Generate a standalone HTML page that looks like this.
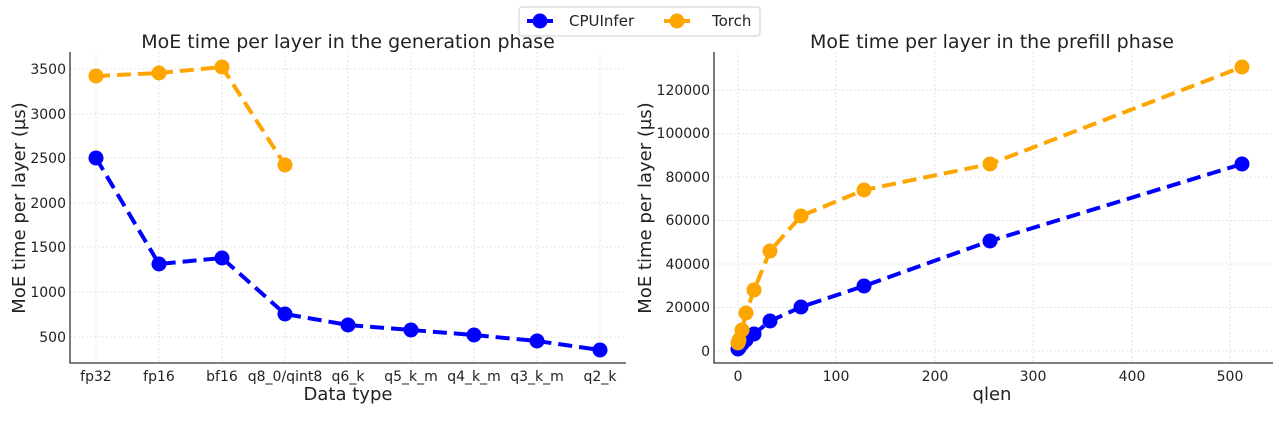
<!DOCTYPE html><html><head><style>body{margin:0;background:#fff}svg{display:block;font-family:"DejaVu Sans","Liberation Sans",sans-serif}</style></head><body>
<svg width="1280" height="426" viewBox="0 0 1280 426">
<g stroke="#ddd" stroke-dasharray="2,2" stroke-width="0.8">
<line x1="70" x2="626" y1="69" y2="69"/><line x1="70" x2="626" y1="114" y2="114"/><line x1="70" x2="626" y1="158" y2="158"/><line x1="70" x2="626" y1="203" y2="203"/><line x1="70" x2="626" y1="247" y2="247"/><line x1="70" x2="626" y1="292" y2="292"/><line x1="70" x2="626" y1="337" y2="337"/>
<line x1="96" x2="96" y1="52" y2="363"/><line x1="159" x2="159" y1="52" y2="363"/><line x1="222" x2="222" y1="52" y2="363"/><line x1="285" x2="285" y1="52" y2="363"/><line x1="348" x2="348" y1="52" y2="363"/><line x1="411" x2="411" y1="52" y2="363"/><line x1="474" x2="474" y1="52" y2="363"/><line x1="537" x2="537" y1="52" y2="363"/><line x1="600" x2="600" y1="52" y2="363"/>
<line x1="714" x2="1273" y1="351" y2="351"/><line x1="714" x2="1273" y1="307.5" y2="307.5"/><line x1="714" x2="1273" y1="264" y2="264"/><line x1="714" x2="1273" y1="220.5" y2="220.5"/><line x1="714" x2="1273" y1="177" y2="177"/><line x1="714" x2="1273" y1="133.5" y2="133.5"/><line x1="714" x2="1273" y1="90" y2="90"/>
<line x1="738" x2="738" y1="52" y2="363"/><line x1="836" x2="836" y1="52" y2="363"/><line x1="935" x2="935" y1="52" y2="363"/><line x1="1033" x2="1033" y1="52" y2="363"/><line x1="1132" x2="1132" y1="52" y2="363"/><line x1="1230" x2="1230" y1="52" y2="363"/>
</g>
<g stroke="#333" stroke-width="1.3" fill="none"><path d="M70 52V363H626"/><path d="M714 52V363H1273"/></g>
<g fill="#222" font-size="14" text-anchor="end">
<text x="66" y="74">3500</text><text x="66" y="119">3000</text><text x="66" y="163">2500</text><text x="66" y="208">2000</text><text x="66" y="252">1500</text><text x="66" y="297">1000</text><text x="66" y="342">500</text>
<text x="710" y="356">0</text><text x="710" y="312">20000</text><text x="710" y="269">40000</text><text x="710" y="225">60000</text><text x="710" y="182">80000</text><text x="710" y="138">100000</text><text x="710" y="95">120000</text>
</g>
<g fill="#222" font-size="14" text-anchor="middle">
<text x="96" y="381">fp32</text><text x="159" y="381">fp16</text><text x="222" y="381">bf16</text><text x="285" y="381">q8_0/qint8</text><text x="348" y="381">q6_k</text><text x="411" y="381">q5_k_m</text><text x="474" y="381">q4_k_m</text><text x="537" y="381">q3_k_m</text><text x="600" y="381">q2_k</text>
<text x="738" y="381">0</text><text x="836" y="381">100</text><text x="935" y="381">200</text><text x="1033" y="381">300</text><text x="1132" y="381">400</text><text x="1230" y="381">500</text>
<text x="348" y="400" font-size="18">Data type</text><text x="992" y="400" font-size="18">qlen</text>
<text x="348" y="48" font-size="19">MoE time per layer in the generation phase</text><text x="992" y="48" font-size="19">MoE time per layer in the prefill phase</text>
<text transform="translate(25,208) rotate(-90)" font-size="18">MoE time per layer (µs)</text>
<text transform="translate(651,208) rotate(-90)" font-size="18">MoE time per layer (µs)</text>
</g>
<g fill="none" stroke-width="4" stroke-dasharray="14,7">
<polyline stroke="#0000ff" points="96,158 159,264 222,258 285,314 348,325 411,330 474,335 537,341 600,350"/>
<polyline stroke="#ffa500" points="96,76 159,73 222,67 285,165"/>
<polyline stroke="#0000ff" points="738,349 739,348 742,344 746,340 754,334 770,321 801,307 864,286 990,241 1242,164"/>
<polyline stroke="#ffa500" points="738,343 739,340 742,330 746,313 754,290 770,251 801,216 864,190 990,164 1242,67"/>
</g>
<g fill="#0000ff"><circle cx="96" cy="158" r="7.5"/><circle cx="159" cy="264" r="7.5"/><circle cx="222" cy="258" r="7.5"/><circle cx="285" cy="314" r="7.5"/><circle cx="348" cy="325" r="7.5"/><circle cx="411" cy="330" r="7.5"/><circle cx="474" cy="335" r="7.5"/><circle cx="537" cy="341" r="7.5"/><circle cx="600" cy="350" r="7.5"/>
<circle cx="738" cy="349" r="7.5"/><circle cx="739" cy="348" r="7.5"/><circle cx="742" cy="344" r="7.5"/><circle cx="746" cy="340" r="7.5"/><circle cx="754" cy="334" r="7.5"/><circle cx="770" cy="321" r="7.5"/><circle cx="801" cy="307" r="7.5"/><circle cx="864" cy="286" r="7.5"/><circle cx="990" cy="241" r="7.5"/><circle cx="1242" cy="164" r="7.5"/></g>
<g fill="#ffa500"><circle cx="96" cy="76" r="7.5"/><circle cx="159" cy="73" r="7.5"/><circle cx="222" cy="67" r="7.5"/><circle cx="285" cy="165" r="7.5"/>
<circle cx="738" cy="343" r="7.5"/><circle cx="739" cy="340" r="7.5"/><circle cx="742" cy="330" r="7.5"/><circle cx="746" cy="313" r="7.5"/><circle cx="754" cy="290" r="7.5"/><circle cx="770" cy="251" r="7.5"/><circle cx="801" cy="216" r="7.5"/><circle cx="864" cy="190" r="7.5"/><circle cx="990" cy="164" r="7.5"/><circle cx="1242" cy="67" r="7.5"/></g>
<rect x="519" y="7" width="241" height="29" rx="3" fill="#fff" stroke="#ccc"/>
<line x1="527" x2="553" y1="21" y2="21" stroke="#0000ff" stroke-width="4"/><circle cx="540" cy="21" r="7.5" fill="#0000ff"/>
<line x1="664" x2="690" y1="21" y2="21" stroke="#ffa500" stroke-width="4"/><circle cx="677" cy="21" r="7.5" fill="#ffa500"/>
<g font-size="15" fill="#222"><text x="569" y="26">CPUInfer</text><text x="712" y="26">Torch</text></g>
</svg></body></html>
